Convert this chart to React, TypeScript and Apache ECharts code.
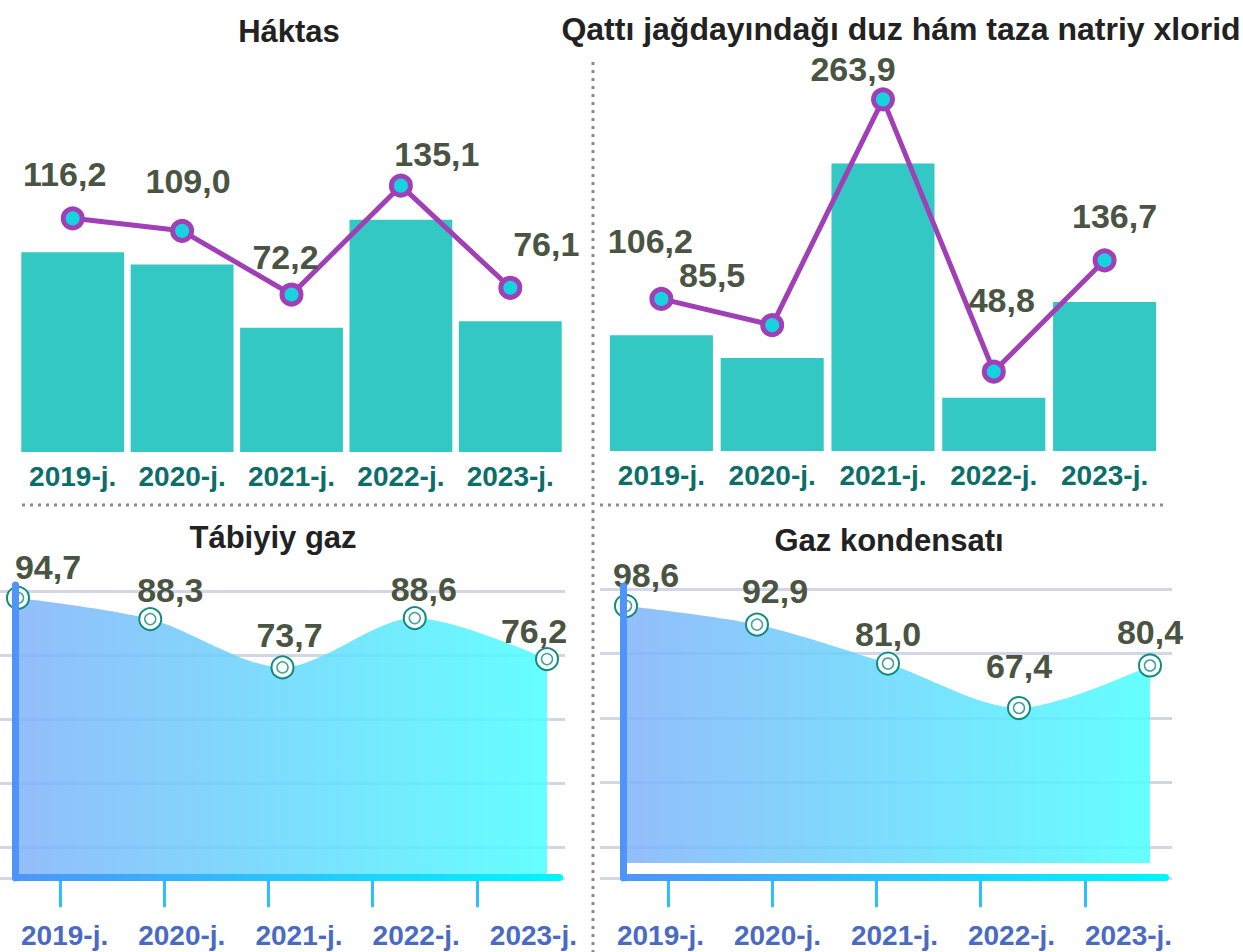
import React, { useEffect, useRef } from 'react';
import * as echarts from 'echarts';

// ---- data ----
const years = ['2019-j.', '2020-j.', '2021-j.', '2022-j.', '2023-j.'];
const haktas = [116.2, 109.0, 72.2, 135.1, 76.1];
const duzNatriy = [106.2, 85.5, 263.9, 48.8, 136.7];
const tabiyiyGaz = [94.7, 88.3, 73.7, 88.6, 76.2];
const gazKondensati = [98.6, 92.9, 81.0, 67.4, 80.4];
const panelTitles = ['Háktas', 'Qattı jağdayındağı duz hám taza natriy xlorid', 'Tábiyiy gaz', 'Gaz kondensatı'];

// ---- label placement (style only: label centre relative to its point) ----
const haktasLabelOffsets = [[-8, -44], [6, -50], [-6, -38], [36, -32], [36, -44]];
const duzLabelOffsets = [[-11, -58], [-60, -50], [-30, -30], [8, -72], [10, -44]];
const gazLabelOffsets = [[30, -31], [20, -29], [7, -32], [9, -29], [-13, -28]];
const kondLabelOffsets = [[20, -31], [18, -34], [0, -30], [0, -42], [0, -33]];

const FONT = '"Liberation Sans", Arial, Helvetica, sans-serif';
const fmt = (v: number) => v.toFixed(1).replace('.', ',');

function withOffsets(data: number[], offsets: number[][]) {
  return data.map((v, i) => ({ value: v, label: { offset: offsets[i] } }));
}

function buildOption() {
  const grid: any[] = [];
  const xAxis: any[] = [];
  const yAxis: any[] = [];
  const series: any[] = [];
  const addGrid = (g: any) => {
    grid.push({ ...g, containLabel: false, outerBoundsMode: 'none', show: false });
    return grid.length - 1;
  };
  const valueLabel = {
    show: true, position: 'inside',
    formatter: (p: any) => fmt(p.value),
    fontSize: 34, fontWeight: 'bold', color: '#4A5442', fontFamily: FONT,
  };

  const barPanel = (data: number[], offsets: number[][], g: any, barMax: number, lineMin: number, lineMax: number, gap: string) => {
    const gi = addGrid(g);
    xAxis.push({
      type: 'category', gridIndex: gi, data: years,
      axisLine: { show: false }, axisTick: { show: false }, splitLine: { show: false },
      axisLabel: { color: '#0B6E69', fontSize: 28, fontWeight: 'bold', fontFamily: FONT, margin: 10, interval: 0 },
    });
    const xi = xAxis.length - 1;
    yAxis.push({ type: 'value', gridIndex: gi, min: 0, max: barMax, show: false });
    const yb = yAxis.length - 1;
    yAxis.push({ type: 'value', gridIndex: gi, min: lineMin, max: lineMax, show: false });
    const yl = yAxis.length - 1;
    series.push({
      type: 'bar', xAxisIndex: xi, yAxisIndex: yb, data, barCategoryGap: gap,
      itemStyle: { color: '#33C8C4' },
    });
    series.push({
      type: 'line', xAxisIndex: xi, yAxisIndex: yl, data: withOffsets(data, offsets),
      symbol: 'circle', symbolSize: 19,
      lineStyle: { color: '#A03FB6', width: 5 },
      itemStyle: { color: '#17D3E0', borderColor: '#A03FB6', borderWidth: 5 },
      label: valueLabel,
    });
  };

  const areaPanel = (data: number[], offsets: number[][], c: any) => {
    // gridlines
    const gg = addGrid({ left: c.glLeft, width: c.glWidth, top: c.glTop, height: c.glHeight });
    xAxis.push({ type: 'value', gridIndex: gg, min: 0, max: 1, show: false });
    yAxis.push({
      type: 'value', gridIndex: gg, inverse: true, min: 0, max: c.glMax, interval: 1,
      axisLine: { show: false }, axisTick: { show: false }, axisLabel: { show: false },
      splitLine: { show: true, lineStyle: { color: '#D3D6E5', width: 3 } },
    });
    // left axis bar
    const ag = addGrid({ left: c.axLeft, width: c.axWidth, top: c.axTop, height: c.axHeight });
    xAxis.push({ type: 'value', gridIndex: ag, min: 0, max: 1, show: false });
    yAxis.push({
      type: 'value', gridIndex: ag, min: 0, max: 1, z: 5,
      axisLine: { show: true, onZero: false, lineStyle: { color: '#4F94F8', width: 7, cap: 'round' } },
      axisTick: { show: false }, axisLabel: { show: false }, splitLine: { show: false },
    });
    // ticks
    const tg = addGrid({ left: c.tkLeft, width: c.tkWidth, top: c.axTop, height: 880 - c.axTop });
    xAxis.push({
      type: 'category', gridIndex: tg, data: years, boundaryGap: true,
      axisLine: { show: false }, axisLabel: { show: false }, splitLine: { show: false },
      axisTick: { show: true, alignWithLabel: true, length: 26, lineStyle: { color: '#2EBEFF', width: 3, cap: 'round' } },
    });
    yAxis.push({ type: 'value', gridIndex: tg, show: false });
    // labels
    const lg = addGrid({ left: c.lbLeft, width: c.lbWidth, top: c.axTop, height: 880 - c.axTop });
    xAxis.push({
      type: 'category', gridIndex: lg, data: years,
      axisLine: { show: false }, axisTick: { show: false }, splitLine: { show: false },
      axisLabel: { color: '#4A6BC1', fontSize: 28, fontWeight: 'bold', fontFamily: FONT, margin: 41, interval: 0 },
    });
    yAxis.push({ type: 'value', gridIndex: lg, show: false });
    // data
    const dg = addGrid({ left: c.dLeft, width: c.dWidth, top: c.dTop, height: c.dHeight });
    xAxis.push({ type: 'category', gridIndex: dg, data: years, boundaryGap: false, show: false });
    const xi = xAxis.length - 1;
    yAxis.push({ type: 'value', gridIndex: dg, min: c.min, max: c.max, show: false });
    const yi = yAxis.length - 1;
    series.push({
      type: 'line', xAxisIndex: xi, yAxisIndex: yi, data: withOffsets(data, offsets), smooth: 0.3,
      symbol: 'circle', symbolSize: 22, z: 3,
      lineStyle: { width: 0, opacity: 0 },
      itemStyle: { color: '#FFFFFF', borderColor: '#0E8C80', borderWidth: 2 },
      areaStyle: {
        opacity: 1,
        color: new echarts.graphic.LinearGradient(0, 0, 1, 0, [
          { offset: 0, color: 'rgba(128,178,250,0.85)' },
          { offset: 1, color: 'rgba(80,255,255,0.88)' },
        ]),
      },
      label: valueLabel,
    });
    series.push({
      type: 'scatter', xAxisIndex: xi, yAxisIndex: yi, data, symbolSize: 11, z: 4,
      itemStyle: { color: 'rgba(255,255,255,0)', borderColor: '#0E8C80', borderWidth: 1.5 },
    });
  };

  barPanel(haktas, haktasLabelOffsets, { left: 18, width: 547, top: 60, height: 392 }, 228, -18.8, 207.7, '6%');
  barPanel(duzNatriy, duzLabelOffsets, { left: 606, width: 554, top: 60, height: 391 }, 359, -14, 295, '7%');

  areaPanel(tabiyiyGaz, gazLabelOffsets, {
    glLeft: 0, glWidth: 565, glTop: 591, glHeight: 287, glMax: 287 / 64,
    axLeft: 15, axWidth: 548, axTop: 585, axHeight: 293,
    tkLeft: 8, tkWidth: 521, lbLeft: 6, lbWidth: 586,
    dLeft: 18, dWidth: 529, dTop: 591, dHeight: 287, min: 10, max: 96.8,
  });
  areaPanel(gazKondensati, kondLabelOffsets, {
    glLeft: 600, glWidth: 572, glTop: 589, glHeight: 289, glMax: 289 / 64.5,
    axLeft: 623, axWidth: 545, axTop: 586, axHeight: 292,
    tkLeft: 616, tkWidth: 521, lbLeft: 602, lbWidth: 585,
    dLeft: 626, dWidth: 524, dTop: 588, dHeight: 275, min: 20, max: 104.1,
  });

  const titleStyle = (text: string, x: number, y: number, size: number) => ({
    type: 'text', x, y, z: 10,
    style: {
      text, fill: '#222222', font: `bold ${size}px ${FONT}`,
      align: 'center', verticalAlign: 'middle', textAlign: 'center', textVerticalAlign: 'middle',
    },
  });
  const bottomBar = (x: number, w: number) => ({
    type: 'rect', z: 6,
    shape: { x, y: 874, width: w, height: 7, r: 3.5 },
    style: {
      fill: new echarts.graphic.LinearGradient(0, 0, 1, 0, [
        { offset: 0, color: '#4F94F8' },
        { offset: 1, color: '#00F6FF' },
      ]),
    },
  });
  const dotted = (x1: number, y1: number, x2: number, y2: number) => ({
    type: 'line', z: 1,
    shape: { x1, y1, x2, y2 },
    style: { stroke: '#8C8C8C', lineWidth: 3, lineDash: [3, 5] },
  });

  const graphic = [
    dotted(593, 62, 593, 952),
    dotted(22, 505, 588, 505),
    dotted(600, 505, 1166, 505),
    bottomBar(12, 551),
    bottomBar(620, 549),
    titleStyle(panelTitles[0], 289, 31, 31),
    titleStyle(panelTitles[1], 901, 29, 32),
    titleStyle(panelTitles[2], 273, 537, 31),
    titleStyle(panelTitles[3], 889, 540, 31),
  ];

  return {
    animation: false,
    backgroundColor: '#FFFFFF',
    textStyle: { fontFamily: FONT },
    grid, xAxis, yAxis, series, graphic,
  };
}

export default function App() {
  const ref = useRef<HTMLDivElement>(null);
  useEffect(() => {
    if (!ref.current) return;
    const chart = echarts.init(ref.current, undefined, { renderer: 'svg' });
    chart.setOption(buildOption() as any);
    return () => chart.dispose();
  }, []);
  return <div ref={ref} style={{ position: 'absolute', left: 0, top: 0, width: 1243, height: 952 }} />;
}
